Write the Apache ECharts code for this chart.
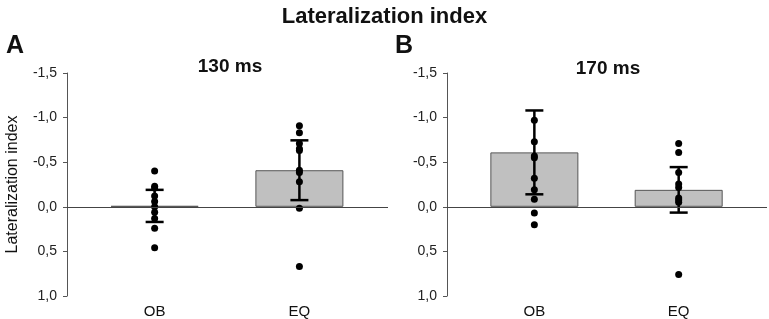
<!DOCTYPE html>
<html>
<head>
<meta charset="utf-8">
<script src="https://cdn.jsdelivr.net/npm/echarts@6/dist/echarts.min.js"></script>
<style>
  html, body { margin: 0; padding: 0; background: #fff; }
  #chart1 { width: 769px; height: 319px; }
</style>
</head>
<body>
<div id="chart1"></div>
<script>
// categories and where they sit along each panel (0..1 of the panel width)
var categories = ["OB", "EQ"]
var catPos = [0.273, 0.724]

// 130 ms panel
var meanA = [-0.01, -0.41]
var sdA = [0.18, 0.335]
var ptsA_OB = [-0.40, -0.23, -0.21, -0.12, -0.06, 0.00, 0.06, 0.13, 0.24, 0.46]
var ptsA_EQ = [-0.91, -0.83, -0.71, -0.65, -0.63, -0.41, -0.385, -0.28, 0.015, 0.67]

// 170 ms panel
var meanB = [-0.61, -0.19]
var sdB = [0.47, 0.255]
var ptsB_OB = [-0.97, -0.73, -0.57, -0.55, -0.32, -0.19, -0.085, 0.07, 0.20]
var ptsB_EQ = [-0.71, -0.61, -0.385, -0.255, -0.215, -0.10, -0.075, -0.05, 0.76]

var yTicks = [-1.5, -1.0, -0.5, 0.0, 0.5, 1.0]

var font = "Arial, 'Liberation Sans', sans-serif"

function fmtComma(v) {
    return v.toFixed(1).replace(".", ",")
}

function catName(v) {
    var best = 0
    catPos.forEach(function (p, i) {
        if (Math.abs(p - v) < Math.abs(catPos[best] - v)) best = i
    })
    return categories[best]
}

function makeX(idx) {
    return {
        type: "value",
        gridIndex: idx,
        min: 0,
        max: 1,
        axisLine: { show: false },
        axisTick: { show: false },
        splitLine: { show: false },
        axisLabel: {
            customValues: catPos,
            formatter: catName,
            color: "#111",
            fontSize: 15,
            fontFamily: font,
            margin: 8
        }
    }
}

function makeY(idx, withName) {
    var y = {
        type: "value",
        gridIndex: idx,
        inverse: true,
        min: yTicks[0],
        max: yTicks[yTicks.length - 1],
        interval: 0.5,
        axisLine: { show: true, lineStyle: { color: "#555", width: 1 } },
        axisTick: { show: true, length: 4, lineStyle: { color: "#555" } },
        splitLine: { show: false },
        axisLabel: {
            formatter: fmtComma,
            color: "#222",
            fontSize: 14,
            fontFamily: font,
            margin: 10
        }
    }
    if (withName) {
        y.name = "Lateralization index"
        y.nameLocation = "middle"
        y.nameGap = 46
        y.nameTextStyle = { fontSize: 16, color: "#111", fontFamily: font }
    }
    return y
}

function barSeries(idx, means) {
    return {
        type: "bar",
        xAxisIndex: idx,
        yAxisIndex: idx,
        barWidth: 88,
        silent: true,
        itemStyle: { color: "#c0c0c0", borderColor: "#555", borderWidth: 1 },
        data: means.map(function (m, i) { return [catPos[i], m] }),
        markLine: {
            silent: true,
            symbol: ["none", "none"],
            label: { show: false },
            lineStyle: { color: "#444", width: 1, type: "solid" },
            data: [{ yAxis: 0 }]
        },
        z: 2
    }
}

function errSeries(idx, means, sds) {
    return {
        type: "custom",
        xAxisIndex: idx,
        yAxisIndex: idx,
        silent: true,
        data: means.map(function (m, i) { return [catPos[i], m - sds[i], m + sds[i]] }),
        renderItem: function (params, api) {
            var top = api.coord([api.value(0), api.value(1)])
            var bot = api.coord([api.value(0), api.value(2)])
            var half = 9
            var style = { stroke: "#000", lineWidth: 2.5 }
            return {
                type: "group",
                children: [
                    { type: "line", shape: { x1: top[0], y1: top[1], x2: bot[0], y2: bot[1] }, style: style },
                    { type: "line", shape: { x1: top[0] - half, y1: top[1], x2: top[0] + half, y2: top[1] }, style: style },
                    { type: "line", shape: { x1: bot[0] - half, y1: bot[1], x2: bot[0] + half, y2: bot[1] }, style: style }
                ]
            }
        },
        z: 3
    }
}

function dotSeries(idx, ci, pts) {
    return {
        type: "scatter",
        xAxisIndex: idx,
        yAxisIndex: idx,
        symbolSize: 7,
        silent: true,
        itemStyle: { color: "#000", opacity: 1 },
        data: pts.map(function (v) { return [catPos[ci], v] }),
        z: 4
    }
}

var chart = echarts.init(document.querySelector("#chart1"))

var option = {
    animation: false,
    backgroundColor: "#fff",
    title: [
        { text: "Lateralization index", left: "center", top: 1,
          textStyle: { fontSize: 22, fontWeight: "bold", color: "#111", fontFamily: font } },
        { text: "A", left: 1, top: 29,
          textStyle: { fontSize: 25, fontWeight: "bold", color: "#111", fontFamily: font } },
        { text: "B", left: 390, top: 29,
          textStyle: { fontSize: 25, fontWeight: "bold", color: "#111", fontFamily: font } },
        { text: "130 ms", left: 225, top: 52, textAlign: "center",
          textStyle: { fontSize: 19, fontWeight: "bold", color: "#111", fontFamily: font } },
        { text: "170 ms", left: 603, top: 54, textAlign: "center",
          textStyle: { fontSize: 19, fontWeight: "bold", color: "#111", fontFamily: font } }
    ],
    grid: [
        { left: 67, top: 73, width: 321, height: 223 },
        { left: 447, top: 73, width: 320, height: 223 }
    ],
    xAxis: [makeX(0), makeX(1)],
    yAxis: [makeY(0, true), makeY(1, false)],
    series: [
        barSeries(0, meanA),
        errSeries(0, meanA, sdA),
        dotSeries(0, 0, ptsA_OB),
        dotSeries(0, 1, ptsA_EQ),
        barSeries(1, meanB),
        errSeries(1, meanB, sdB),
        dotSeries(1, 0, ptsB_OB),
        dotSeries(1, 1, ptsB_EQ)
    ]
}

chart.setOption(option)
</script>
</body>
</html>
